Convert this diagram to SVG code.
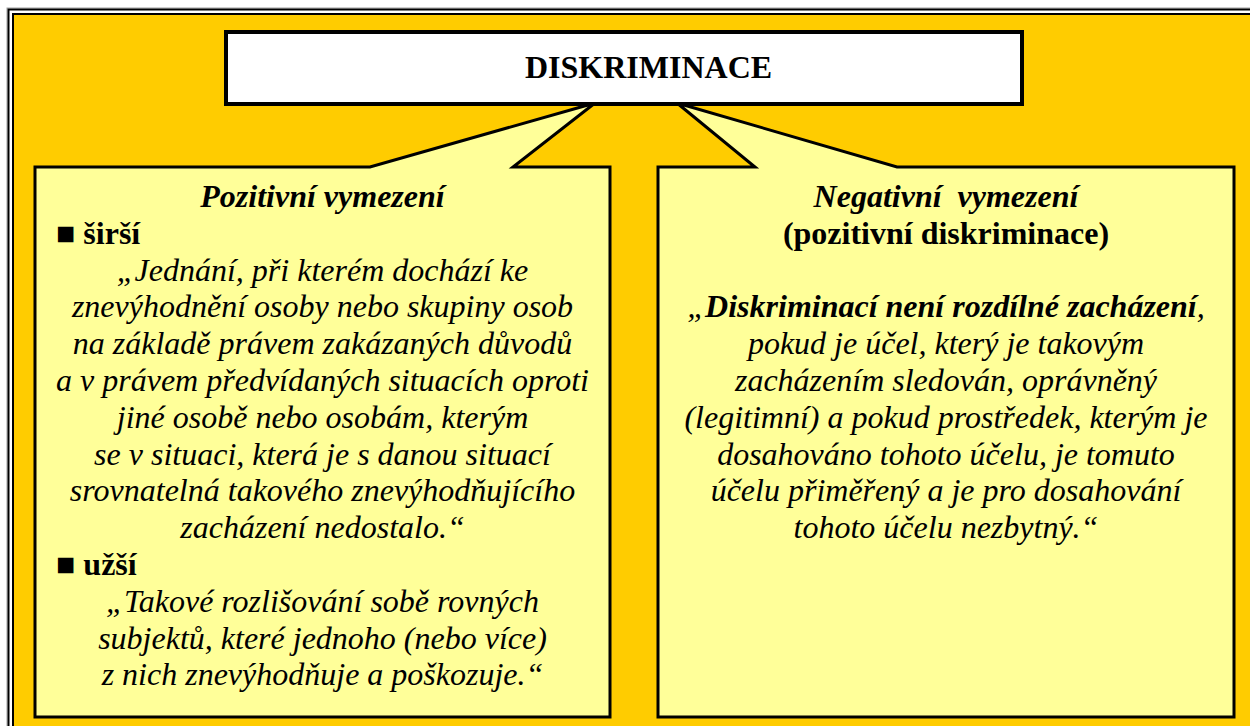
<svg xmlns="http://www.w3.org/2000/svg" width="1250" height="726" viewBox="0 0 1250 726">
<style>
.t{font-family:"Liberation Serif","Times New Roman",serif;font-size:32px;fill:#000}
.c{text-anchor:middle}
.i{font-style:italic}
.b{font-weight:bold}
.bi{font-weight:bold;font-style:italic}
.call{fill:#FFFF99;stroke:#000;stroke-width:3;stroke-linejoin:miter}
</style>
<rect x="0" y="0" width="1250" height="726" fill="#FFFFFF"/>
<g id="frame">
<rect x="7" y="8" width="1300" height="800" fill="none" stroke="#A0A0A0" stroke-width="1"/>
<rect x="8.5" y="9.5" width="1300" height="800" fill="none" stroke="#000" stroke-width="2"/>
<rect x="13" y="14" width="1300" height="800" fill="#FFCC00" stroke="#000" stroke-width="2"/>
</g>
<g id="connectors"></g>
<g id="node-left">
<path class="call" d="M35,167 L370,167 L595,103 L513,167 L610,167 L610,717 L35,717 Z"/>
<text class="t bi c" x="322.5" y="207">Pozitivní vymezení</text>
<text class="t b" x="56" y="244">■ širší</text>
<text class="t i c" x="322.5" y="281">„Jednání, při kterém dochází ke</text>
<text class="t i c" x="322.5" y="317">znevýhodnění osoby nebo skupiny osob</text>
<text class="t i c" x="322.5" y="354">na základě právem zakázaných důvodů</text>
<text class="t i c" x="322.5" y="391">a v právem předvídaných situacích oproti</text>
<text class="t i c" x="322.5" y="428">jiné osobě nebo osobám, kterým</text>
<text class="t i c" x="322.5" y="465">se v situaci, která je s danou situací</text>
<text class="t i c" x="322.5" y="501">srovnatelná takového znevýhodňujícího</text>
<text class="t i c" x="322.5" y="538">zacházení nedostalo.“</text>
<text class="t b" x="56" y="575">■ užší</text>
<text class="t i c" x="322.5" y="612">„Takové rozlišování sobě rovných</text>
<text class="t i c" x="322.5" y="649">subjektů, které jednoho (nebo více)</text>
<text class="t i c" x="322.5" y="685">z nich znevýhodňuje a poškozuje.“</text>
</g>
<g id="node-right">
<path class="call" d="M658,167 L755,167 L677,103 L897,167 L1234,167 L1234,717 L658,717 Z"/>
<text class="t bi c" x="946" y="207" style="white-space:pre">Negativní  vymezení</text>
<text class="t b c" x="946" y="244">(pozitivní diskriminace)</text>
<text class="t i c" x="946" y="317">„<tspan class="b">Diskriminací není rozdílné zacházení</tspan>,</text>
<text class="t i c" x="946" y="354">pokud je účel, který je takovým</text>
<text class="t i c" x="946" y="391">zacházením sledován, oprávněný</text>
<text class="t i c" x="946" y="428">(legitimní) a pokud prostředek, kterým je</text>
<text class="t i c" x="946" y="465">dosahováno tohoto účelu, je tomuto</text>
<text class="t i c" x="946" y="501">účelu přiměřený a je pro dosahování</text>
<text class="t i c" x="946" y="538">tohoto účelu nezbytný.“</text>
</g>
<g id="node-title">
<rect x="226" y="32" width="796" height="72" fill="#FFFFFF" stroke="#000" stroke-width="4"/>
<text class="t b" x="525" y="78">DISKRIMINACE</text>
</g>
</svg>
